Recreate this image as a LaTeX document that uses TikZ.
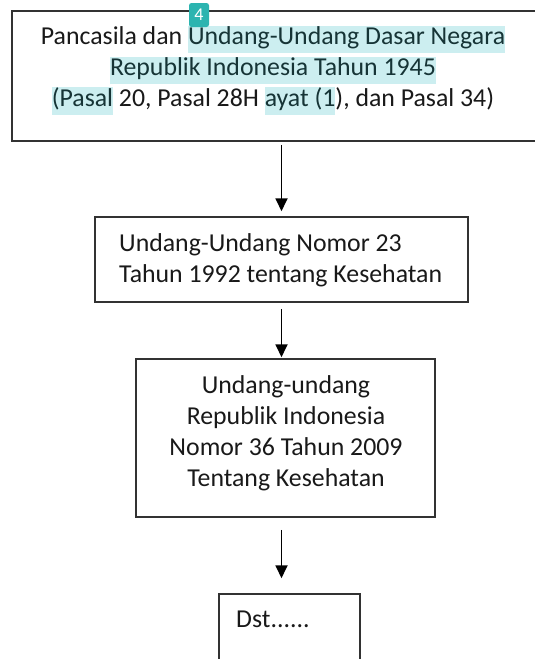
\documentclass[tikz,border=0pt]{standalone}
\usepackage{fontspec}
\setmainfont{Carlito}
\usetikzlibrary{arrows.meta}

\definecolor{hlcyan}{RGB}{204,238,240}
\definecolor{hltext}{RGB}{22,52,54}
\definecolor{badgeteal}{RGB}{44,180,176}
\definecolor{boxline}{RGB}{50,50,50}

% line strut and highlighted text
\newcommand{\lnstrut}{\rule[-8.5pt]{0pt}{27pt}}
\newcommand{\hlcy}[1]{{\setlength{\fboxsep}{0pt}\colorbox{hlcyan}{\lnstrut\color{hltext}#1}}}

\begin{document}
\begin{tikzpicture}[x=1pt, y=-1pt, >={Triangle[width=12pt,length=13pt]},
    box/.style={draw=boxline, line width=1.5pt, inner sep=0pt},
    txt/.style={inner sep=0pt, font=\fontsize{25.8}{31}\selectfont, text=black!90},
    arr/.style={->, line width=1.8pt}]
        \clip (0,0) rectangle (535,659);

        % Boxes
        \node[box, minimum width=524pt, minimum height=130pt] (uud) at (274,76) {};
        \node[box, minimum width=373pt, minimum height=85pt] (uukes) at (281.5,259.5) {};
        \node[box, minimum width=299pt, minimum height=158pt] (uu36) at (285.5,438) {};
        \node[box, minimum width=141pt, minimum height=92pt] (dst) at (289.5,640) {};

        % Texts
        \node[txt, align=center] (uudtxt) at (273,70)
            {Pancasila dan \hlcy{Undang-Undang Dasar Negara}\\
             \hlcy{Republik Indonesia Tahun 1945}\\
             \hlcy{(Pasal} 20, Pasal 28H \hlcy{ayat (1}), dan Pasal 34)};
        \node[txt, align=left, anchor=west] (uukestxt) at (119,261.5)
            {\lnstrut Undang-Undang Nomor 23\\
             \lnstrut Tahun 1992 tentang Kesehatan};
        \node[txt, align=center] (uu36txt) at (286,434.5)
            {\lnstrut Undang-undang\\
             \lnstrut Republik Indonesia\\
             \lnstrut Nomor 36 Tahun 2009\\
             \lnstrut Tentang Kesehatan};
        \node[txt, anchor=west] (dsttxt) at (236,622) {\lnstrut Dst......};

        % Badge
        \node[fill=badgeteal, rounded corners=2.5pt, minimum width=20pt, minimum height=24pt,
            inner sep=0pt, text=white, font=\fontsize{18}{18}\selectfont] (badge) at (199,15) {4};

        % Arrows
        \draw[arr, shorten <=3pt, shorten >=5pt] (uud.south -| uukes.north) -- (uukes.north);
        \draw[arr, shorten <=6pt, shorten >=1pt] (uukes.south) -- (uukes.south |- uu36.north);
        \draw[arr, shorten <=12pt, shorten >=15pt] (uu36.south -| uukes.south) -- (dst.north -| uukes.south);
\end{tikzpicture}
\end{document}
